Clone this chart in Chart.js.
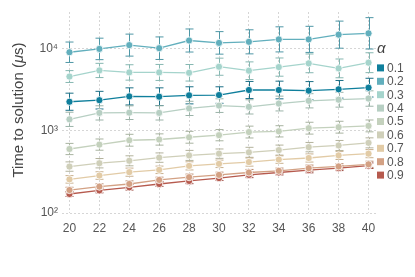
<!DOCTYPE html>
<html>
<head>
<meta charset="utf-8">
<script src="https://cdn.jsdelivr.net/npm/chart.js@4/dist/chart.umd.min.js"></script>
<style>
  html, body { margin: 0; padding: 0; background: #fff; }
  #wrap { width: 415px; height: 277px; }
</style>
</head>
<body>
<div id="wrap"><canvas id="chart" width="415" height="277"></canvas></div>
<script>
// ── Data ─────────────────────────────────────────────────
const sizes = [20, 22, 24, 26, 28, 30, 32, 34, 36, 38, 40];
const alphas = ["0.1", "0.2", "0.3", "0.4", "0.5", "0.6", "0.7", "0.8", "0.9"];
const colors = ["#0f7f9c", "#62afbd", "#a5d4cc", "#b7cfc3", "#c4d1bd", "#cfcfb9", "#e2cba6", "#d3a184", "#b65a4e"];
const barColors = ["#1b6f86", "#4f97a6", "#86b7b1", "#9bb3a8", "#a8b3a0", "#b3b29c", "#c7ae8b", "#b88669", "#9a4a40"];

const t01 = [2240, 2340, 2600, 2580, 2680, 2700, 3110, 3110, 3050, 3170, 3320];
const t02 = [8930, 9800, 10900, 10000, 12400, 11600, 11950, 12800, 12800, 14600, 15150];
const t03 = [4530, 5370, 5080, 5080, 5030, 5960, 5330, 5900, 6550, 5690, 6670];
const t04 = [1370, 1640, 1650, 1640, 1860, 2010, 1940, 2130, 2300, 2370, 2450];
const t05 = [598, 676, 764, 780, 830, 880, 960, 980, 1070, 1100, 1140];
const t06 = [366, 402, 430, 470, 500, 525, 545, 580, 630, 660, 710];
const t07 = [256, 285, 313, 334, 373, 395, 415, 445, 465, 500, 525];
const t08 = [190, 209, 225, 252, 272, 290, 310, 325, 350, 367, 390];
const t09 = [170, 188, 205, 225, 245, 265, 290, 310, 332, 350, 375];

// multiplicative spread of the error bars (upper = t*f, lower = t/f)
const e01 = [1.27, 1.28, 1.27, 1.28, 1.27, 1.26, 1.27, 1.28, 1.29, 1.28, 1.30];
const e02 = [1.33, 1.35, 1.36, 1.37, 1.38, 1.37, 1.40, 1.42, 1.44, 1.46, 1.55];
const e03 = [1.18, 1.22, 1.24, 1.25, 1.26, 1.27, 1.28, 1.29, 1.30, 1.30, 1.32];
const e04 = [1.22, 1.22, 1.21, 1.22, 1.22, 1.21, 1.22, 1.23, 1.22, 1.23, 1.24];
const e05 = [1.17, 1.17, 1.18, 1.17, 1.18, 1.17, 1.18, 1.17, 1.18, 1.18, 1.18];
const e06 = [1.14, 1.14, 1.15, 1.14, 1.15, 1.14, 1.15, 1.15, 1.14, 1.15, 1.15];
const e07 = [1.11, 1.11, 1.12, 1.11, 1.12, 1.11, 1.12, 1.11, 1.12, 1.12, 1.12];
const e08 = [1.08, 1.08, 1.09, 1.08, 1.09, 1.08, 1.09, 1.08, 1.09, 1.08, 1.09];
const e09 = [1.07, 1.07, 1.08, 1.07, 1.08, 1.07, 1.08, 1.07, 1.08, 1.07, 1.08];

const times = [t01, t02, t03, t04, t05, t06, t07, t08, t09];
const errs = [e01, e02, e03, e04, e05, e06, e07, e08, e09];
const yTicks = [100, 1000, 10000];
const yTickLabels = ["10\u00B2", "10\u00B3", "10\u2074"];

const FONT = "'Liberation Sans', Arial, Helvetica, sans-serif";
const TEXT = "#555";

// ── Plugins ──────────────────────────────────────────────
const errorBars = {
  id: "errorBars",
  beforeDatasetsDraw(chart) {
    const { ctx, scales: { x, y } } = chart;
    chart.data.datasets.forEach((ds) => {
      ctx.save();
      ctx.strokeStyle = ds.errColor;
      ctx.lineWidth = 1;
      ds.data.forEach((p, j) => {
        const f = ds.errFactor[j];
        const px = Math.round(x.getPixelForValue(p.x)) + 0.5;
        const hi = y.getPixelForValue(p.y * f);
        const lo = y.getPixelForValue(p.y / f);
        ctx.beginPath();
        ctx.moveTo(px, hi); ctx.lineTo(px, lo);
        ctx.moveTo(px - 4, hi); ctx.lineTo(px + 4, hi);
        ctx.moveTo(px - 4, lo); ctx.lineTo(px + 4, lo);
        ctx.stroke();
      });
      ctx.restore();
    });
  }
};

const yTitle = {
  id: "yTitle",
  afterDraw(chart) {
    const { ctx } = chart;
    const parts = [
      { t: "Time to solution (", f: "15px " + FONT },
      { t: "\u03BC", f: "italic 15px " + FONT },
      { t: "s)", f: "15px " + FONT }
    ];
    ctx.save();
    let total = 0;
    parts.forEach(p => { ctx.font = p.f; p.w = ctx.measureText(p.t).width; total += p.w; });
    ctx.translate(19, 110);
    ctx.rotate(-Math.PI / 2);
    ctx.fillStyle = "#444";
    ctx.textBaseline = "middle";
    let cx = -total / 2;
    parts.forEach(p => { ctx.font = p.f; ctx.fillText(p.t, cx, 0); cx += p.w; });
    ctx.restore();
  }
};

// legend drawn beside the plot, centred on the plot area
const sideLegend = {
  id: "sideLegend",
  afterDraw(chart) {
    const { ctx, chartArea } = chart;
    const rowH = 13.4;
    const n = chart.data.datasets.length;
    const left = chartArea.right + 1;
    const first = (chartArea.top + chartArea.bottom) / 2 - (n - 1) * rowH / 2 + 9;
    ctx.save();
    ctx.textBaseline = "middle";
    ctx.fillStyle = "#444";
    ctx.font = "italic 15px " + FONT;
    ctx.fillText("\u03B1", left, first - 19);
    ctx.font = "12px " + FONT;
    chart.data.datasets.forEach((ds, i) => {
      const cy = first + i * rowH;
      ctx.fillStyle = ds.backgroundColor;
      ctx.fillRect(left, cy - 3.5, 7, 7);
      ctx.fillStyle = TEXT;
      ctx.fillText(ds.label, left + 10, cy + 0.5);
    });
    ctx.restore();
  }
};

// ── Chart ────────────────────────────────────────────────
const datasets = alphas.map((a, i) => ({
  label: a,
  data: sizes.map((s, j) => ({ x: s, y: times[i][j] })),
  errFactor: errs[i],
  errColor: barColors[i],
  borderColor: colors[i],
  backgroundColor: colors[i],
  borderWidth: 1.3,
  pointRadius: 3.6,
  pointBackgroundColor: colors[i],
  pointBorderColor: "#fff",
  pointBorderWidth: 0.8,
  tension: 0
}));

new Chart(document.getElementById("chart"), {
  type: "line",
  data: { datasets },
  plugins: [errorBars, yTitle, sideLegend],
  options: {
    responsive: false,
    animation: false,
    layout: { padding: { top: 12, right: 39, left: 0, bottom: 0 } },
    plugins: {
      tooltip: { enabled: false },
      legend: { display: false }
    },
    scales: {
      x: {
        type: "linear",
        min: 19.5,
        max: 40.5,
        afterBuildTicks(scale) { scale.ticks = sizes.map(v => ({ value: v })); },
        afterFit(scale) { scale.height = 64; },
        border: { display: false, dash: [2, 2] },
        grid: { color: "#d6d6d6", lineWidth: 1, drawTicks: false },
        ticks: { color: TEXT, padding: 8, maxRotation: 0, font: { family: FONT, size: 12 } }
      },
      y: {
        type: "logarithmic",
        min: 100,
        max: 27500,
        afterBuildTicks(scale) { scale.ticks = yTicks.map(v => ({ value: v })); },
        afterFit(scale) { scale.width = 62; },
        border: { display: false, dash: [2, 2] },
        grid: { color: "#d6d6d6", lineWidth: 1, drawTicks: false },
        ticks: {
          color: TEXT,
          padding: 4,
          font: { family: FONT, size: 12 },
          callback: (v) => yTickLabels[yTicks.indexOf(v)] || ""
        }
      }
    }
  }
});
</script>
</body>
</html>
